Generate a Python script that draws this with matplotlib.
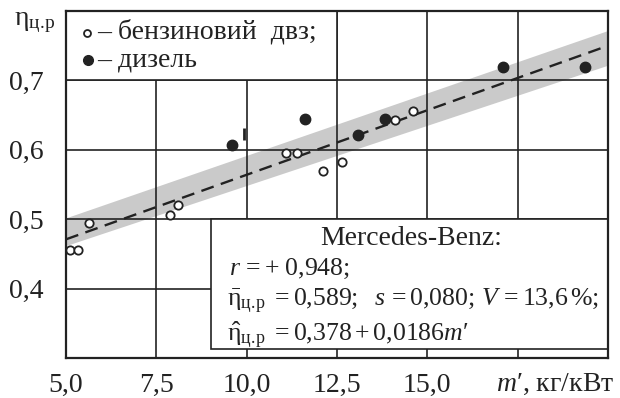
import matplotlib
matplotlib.use("Agg")
import matplotlib.pyplot as plt
from matplotlib.patches import Rectangle

plt.rcParams['font.family'] = ['Liberation Serif', 'DejaVu Serif']
plt.rcParams['mathtext.fontset'] = 'custom'
plt.rcParams['mathtext.rm'] = 'Liberation Serif'
plt.rcParams['mathtext.it'] = 'Liberation Serif:italic'
plt.rcParams['mathtext.bf'] = 'Liberation Serif:bold'

# ---- data ----
petrol_x = [5.11, 5.33, 5.64, 7.88, 8.10, 11.09, 11.39, 12.11, 12.64, 14.11, 14.60]
petrol_y = [0.456, 0.456, 0.495, 0.506, 0.521, 0.596, 0.596, 0.570, 0.583, 0.643, 0.656]
diesel_x = [9.59, 11.61, 13.08, 13.83, 17.10, 19.36]
diesel_y = [0.607, 0.645, 0.622, 0.645, 0.719, 0.719]
partial_x = [9.92]
partial_y = [0.623]

reg_x = [5.0, 20.0]
reg_y = [0.471, 0.750]
band_lo = [0.462, 0.722]
band_hi = [0.502, 0.772]

x_ticks = [5.0, 7.5, 10.0, 12.5, 15.0, 17.5, 20.0]
x_ticklabels = ['5,0', '7,5', '10,0', '12,5', '15,0', '', '']
y_ticks = [0.3, 0.4, 0.5, 0.6, 0.7, 0.8]
y_ticklabels = ['', '0,4', '0,5', '0,6', '0,7', '']

legend_labels = ['– бензиновий  двз;', '– дизель']
box_title = 'Mercedes-Benz:'
SUB = r'_{\mathrm{ц.\!р}}'
box_lines = [r'$r\, =+\ 0{,}948;$',
             r'$\bar{\mathrm{η}}' + SUB + r'\ =0{,}589;\ \ s\,=0{,}080;\,V\,=13{,}6\,\%;$',
             r'$\hat{\mathrm{η}}' + SUB + r'\ =0{,}378+0{,}0186\mathit{m}$′']

INK = '#222222'
FS = 20
FS_BOX = 18.5

fig = plt.figure(figsize=(6.2, 3.98), dpi=100)
ax = fig.add_axes([66/620, 1-358/398, (608-66)/620, (358-11)/398])
ax.set_xlim(5, 20)
ax.set_ylim(0.3, 0.8)

ax.fill_between(reg_x, band_lo, band_hi, color='#cacaca', lw=0, zorder=0.3)
ax.set_xticks(x_ticks)
ax.set_xticklabels(x_ticklabels, fontsize=FS, color=INK)
ax.set_yticks(y_ticks)
ax.set_yticklabels(y_ticklabels, fontsize=FS, color=INK)
ax.tick_params(length=0)
ax.tick_params(axis='x', pad=11)
ax.tick_params(axis='y', pad=16)
ax.set_axisbelow(True)
ax.grid(True, color=INK, lw=1.2, zorder=0.5)
for s in ax.spines.values():
    s.set_linewidth(1.6)
    s.set_color(INK)
    s.set_zorder(5)

ax.plot(reg_x, reg_y, color=INK, lw=1.7, dashes=(5.5, 3.2), zorder=1.5)

# boxes covering the grid
ax.add_patch(Rectangle((5.0, 0.7), 7.5, 0.1, facecolor='white', edgecolor=INK, lw=1.2, zorder=2))
ax.add_patch(Rectangle((9.0, 0.313), 11.0, 0.187, facecolor='white', edgecolor=INK, lw=1.2, zorder=2))

ax.plot(petrol_x, petrol_y, 'o', ms=6, mfc='white', mec=INK, mew=1.3, zorder=3, ls='none')
ax.plot(diesel_x, diesel_y, 'o', ms=7.5, mfc=INK, mec=INK, zorder=3, ls='none')
ax.plot(partial_x, partial_y, '|', ms=8, mec=INK, mew=2, zorder=3, ls='none')

# legend
ax.plot([5.58], [0.768], 'o', ms=5, mfc='white', mec=INK, mew=1.3, zorder=3)
ax.plot([5.6], [0.729], 'o', ms=7, mfc=INK, mec=INK, zorder=3)
ax.text(5.85, 0.770, legend_labels[0], fontsize=FS, color=INK, va='center', ha='left', zorder=4)
ax.text(5.85, 0.729, legend_labels[1], fontsize=FS, color=INK, va='center', ha='left', zorder=4)

# formula box text
ax.text(14.55, 0.4633, box_title, fontsize=FS, color=INK, va='baseline', ha='center', zorder=4)
ax.text(9.5, 0.4201, box_lines[0], fontsize=FS_BOX, color=INK, va='baseline', ha='left', zorder=4)
ax.text(9.45, 0.374, box_lines[1], fontsize=FS_BOX, color=INK, va='baseline', ha='left', zorder=4)
ax.text(9.45, 0.3245, box_lines[2], fontsize=FS_BOX, color=INK, va='baseline', ha='left', zorder=4)

# axis labels
fig.text(14/620, 1-22/398, r'$\mathrm{η}_{\mathrm{ц.\!р}}$', fontsize=FS, color=INK, va='center', ha='left')
fig.text(555/620, 1-384/398, r"$m$′, кг/кВт", fontsize=FS, color=INK, va='center', ha='center')

fig.savefig('out.png', dpi=100)
